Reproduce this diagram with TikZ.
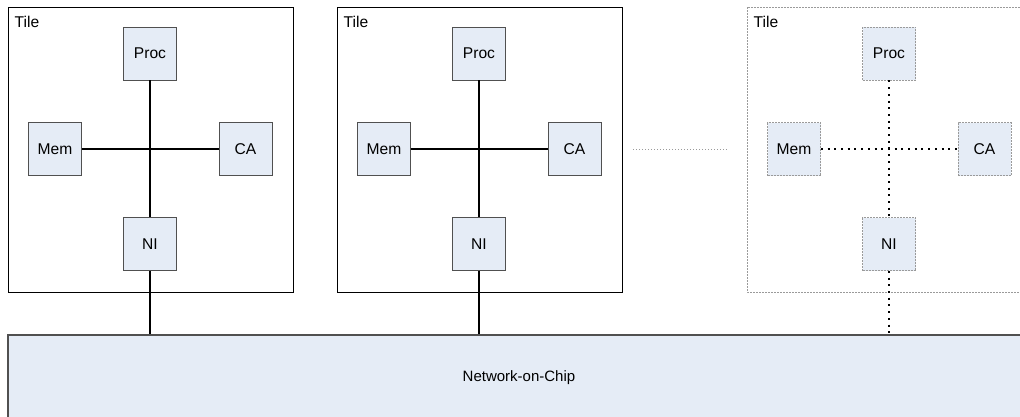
\documentclass[tikz,border=0pt]{standalone}
\usepackage{fontspec}
\setmainfont{Liberation Sans}
\definecolor{boxfill}{HTML}{E5ECF6}
\definecolor{boxline}{HTML}{505050}
\definecolor{ghost}{HTML}{9A9A9A}
\begin{document}
\begin{tikzpicture}[x=1pt,y=-1pt,
  unit/.style={draw=boxline,line width=0.9pt,fill=boxfill,minimum width=53pt,minimum height=53pt,inner sep=0pt,font=\fontsize{15.6}{18}\selectfont},
  ghostunit/.style={unit,draw=ghost,dash pattern=on 2pt off 1pt,line width=0.8pt},
  tilebox/.style={draw=black,line width=1pt},
  ghosttile/.style={draw=ghost,dash pattern=on 2pt off 1pt,line width=0.8pt},
  tilelabel/.style={anchor=base west,inner sep=0pt,font=\fontsize{15.6}{18}\selectfont},
  wire/.style={line width=2pt,black},
  ghostwire/.style={line width=2pt,black,dash pattern=on 2pt off 4.7pt},
  noc/.style={draw=boxline,line width=1.4pt,fill=boxfill,minimum width=1022pt,minimum height=85pt,inner sep=0pt,font=\fontsize{15}{18}\selectfont}]
\useasboundingbox (0,0) rectangle (1020,416);

% shared network
\node[noc] (noc) at (519,377.5) {Network-on-Chip};

% two complete tiles
\foreach \i/\dx in {1/0,2/329}{
  \begin{scope}[xshift=\dx]
    \draw[tilebox] (8,7) rectangle (293,292);
    \node[tilelabel] (tile\i) at (14.5,27.5) {Tile};
    \node[unit] (proc\i) at (150,53.5) {Proc};
    \node[unit] (mem\i)  at (55,149)   {Mem};
    \node[unit] (ca\i)   at (245.5,149) {CA};
    \node[unit] (ni\i)   at (150,244)  {NI};
  \end{scope}
  \draw[wire] (proc\i.south) -- (ni\i.north);
  \draw[wire] (mem\i.east) -- (ca\i.west);
  \draw[wire] (ni\i.south) -- (ni\i.south |- noc.north);
}

% further tiles, hinted
\coordinate (dotsA) at (633,149);
\coordinate (dotsB) at (728,149);
\draw[ghost,line width=0.8pt,dash pattern=on 1pt off 2pt] (dotsA) -- (dotsB);

\begin{scope}[xshift=739]
  \draw[ghosttile] (8,7) rectangle (293,292);
  \node[tilelabel] (tile3) at (14.5,27.5) {Tile};
  \node[ghostunit] (proc3) at (150,53.5) {Proc};
  \node[ghostunit] (mem3)  at (55,149)   {Mem};
  \node[ghostunit] (ca3)   at (245.5,149) {CA};
  \node[ghostunit] (ni3)   at (150,244)  {NI};
\end{scope}
\draw[ghostwire] (proc3.south) -- (ni3.north);
\draw[ghostwire] (mem3.east) -- (ca3.west);
\draw[ghostwire] (ni3.south) -- (ni3.south |- noc.north);
\end{tikzpicture}
\end{document}
